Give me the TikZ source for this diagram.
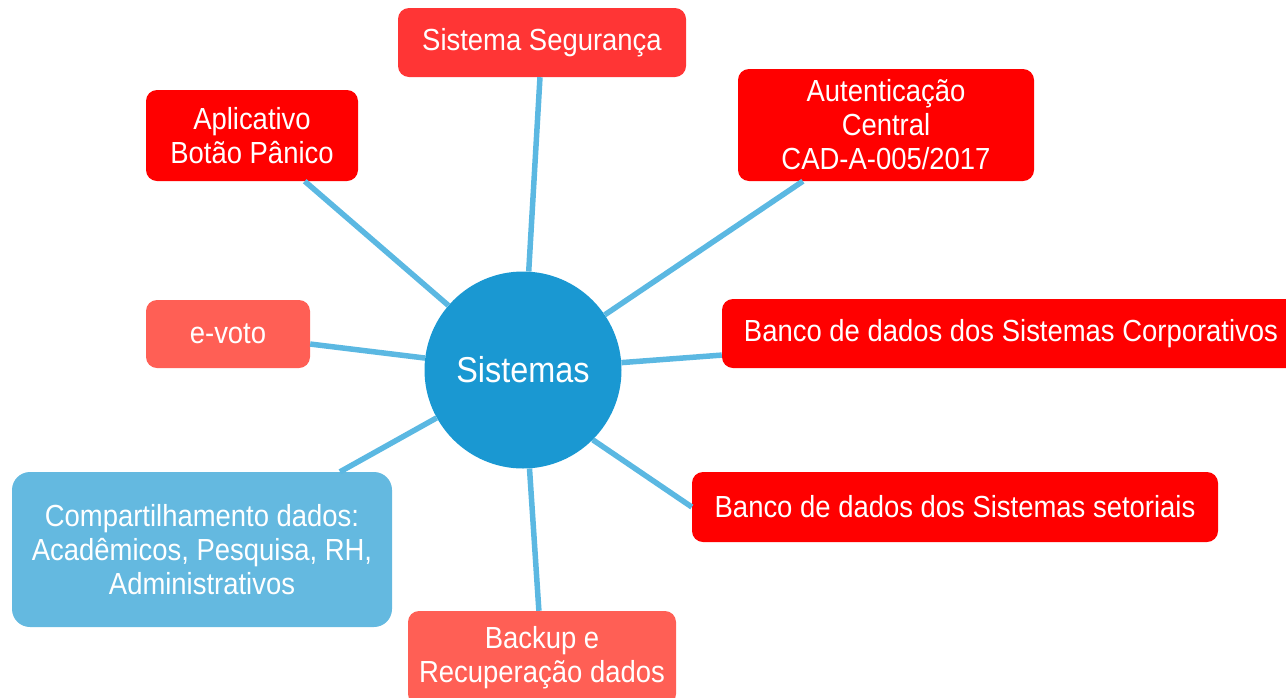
\documentclass[tikz,border=0pt]{standalone}
\usepackage{fontspec}
\setmainfont{Liberation Sans}[FakeStretch=0.9]
\definecolor{segred}{HTML}{FF3535}
\definecolor{pured}{HTML}{FF0000}
\definecolor{salmon}{HTML}{FF5F55}
\definecolor{lblue}{HTML}{64B9E0}
\definecolor{cblue}{HTML}{1A98D2}
\definecolor{linkc}{HTML}{5BB8E2}
\tikzset{
  box/.style={rectangle, rounded corners=11pt, inner sep=0pt, text=white, align=center,
    font=\fontsize{30.5}{34}\selectfont},
  link/.style={draw=linkc, line width=5.5pt},
}
\begin{document}
\begin{tikzpicture}[x=1pt, y=-1pt]
\useasboundingbox (0,0) rectangle (1286,697);
\node[circle, fill=cblue, minimum size=197pt, inner sep=0pt, text=white,
  font=\fontsize{36}{40}\selectfont] (sis) at (523,370) {Sistemas};
\node[box, fill=segred, minimum width=288pt, minimum height=69pt] (seg) at (542,42.5) {Sistema Segurança};
\node[box, fill=pured, minimum width=212pt, minimum height=91pt] (app) at (252,135.5) {Aplicativo\\Botão Pânico};
\node[box, fill=pured, minimum width=296pt, minimum height=112pt] (aut) at (886,125) {Autenticação\\Central\\CAD-A-005/2017};
\node[box, fill=salmon, minimum width=164pt, minimum height=68pt] (evo) at (228,334) {e-voto};
\node[box, fill=pured, minimum width=578pt, minimum height=69pt] (cor) at (1011,333.5) {Banco de dados dos Sistemas Corporativos};
\node[box, fill=pured, minimum width=526pt, minimum height=70pt] (set) at (955,507) {Banco de dados dos Sistemas setoriais};
\node[box, fill=lblue, rounded corners=18pt, minimum width=380pt, minimum height=155pt] (comp) at (202,549.5) {Compartilhamento dados:\\Acadêmicos, Pesquisa, RH,\\Administrativos};
\node[box, fill=salmon, minimum width=268pt, minimum height=94pt] (bkp) at (542,658) {Backup e\\Recuperação dados};
\coordinate (compend) at ([xshift=138pt]comp.north);
\draw[link] (sis) -- (seg);
\draw[link] (sis) -- (app);
\draw[link] (sis) -- (aut);
\draw[link] (sis) -- (evo);
\draw[link] (sis) -- (cor);
\draw[link] (sis.-45) -- (set.west);
\draw[link] (sis.209) -- (compend);
\draw[link] (sis) -- (bkp);
\end{tikzpicture}
\end{document}
